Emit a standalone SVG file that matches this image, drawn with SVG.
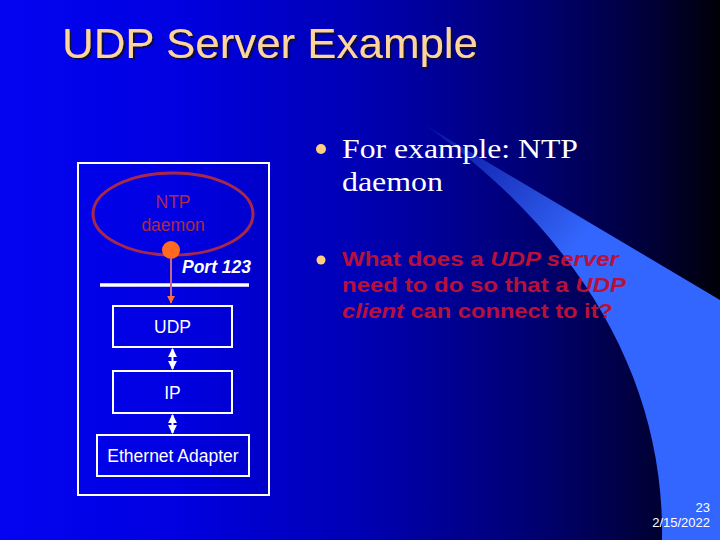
<svg xmlns="http://www.w3.org/2000/svg" width="720" height="540" viewBox="0 0 720 540">
<defs>
<linearGradient id="bg" x1="0" y1="0" x2="720" y2="0" gradientUnits="userSpaceOnUse">
<stop offset="0" stop-color="#0404f2"/>
<stop offset="0.25" stop-color="#0000e0"/>
<stop offset="0.5" stop-color="#0000b4"/>
<stop offset="0.75" stop-color="#000070"/>
<stop offset="0.9" stop-color="#00003a"/>
<stop offset="1" stop-color="#000008"/>
</linearGradient>
<linearGradient id="sw" x1="425" y1="125" x2="600" y2="270" gradientUnits="userSpaceOnUse">
<stop offset="0" stop-color="#3366ff" stop-opacity="0.15"/>
<stop offset="0.85" stop-color="#3366ff" stop-opacity="1"/>
<stop offset="1" stop-color="#3366ff"/>
</linearGradient>
<filter id="shadow" x="-5%" y="-20%" width="110%" height="140%">
<feDropShadow dx="2" dy="2" stdDeviation="0.6" flood-color="#101030" flood-opacity="0.9"/>
</filter>
<marker id="ah" viewBox="0 0 10 10" refX="9" refY="5" markerWidth="4.5" markerHeight="4.5" orient="auto-start-reverse">
<path d="M0,0 L10,5 L0,10 z" fill="#ffffff"/>
</marker>
<marker id="oh" viewBox="0 0 10 10" refX="9" refY="5" markerWidth="4" markerHeight="4" orient="auto">
<path d="M0,0 L10,5 L0,10 z" fill="#ff7030"/>
</marker>
<style>
.box{fill:none;stroke:#ffffff;stroke-width:2}
.lbl{font-family:"Liberation Sans",Arial,sans-serif;font-size:17.5px;fill:#ffffff;text-anchor:middle}
.dlbl{fill:#b02848}
.red{font-family:"Liberation Sans",Arial,sans-serif;font-size:21px;font-weight:bold;fill:#b8103a}
.ser{font-family:"Liberation Serif","Times New Roman",serif;font-size:27px;fill:#ffffff}
.foot{font-family:"Liberation Sans",Arial,sans-serif;font-size:13px;fill:#ffffff;text-anchor:end}
.bul{fill:#ffcc80}
</style>
</defs>
<rect x="0" y="0" width="720" height="540" fill="url(#bg)"/>
<path d="M425,125 L720,300 L720,540 L662,540 C665,380 580,235 425,125 Z" fill="url(#sw)"/>

<g id="title">
<text x="62" y="58" font-family="'Liberation Sans',Arial,sans-serif" font-size="42" fill="#fcd49c" textLength="416" lengthAdjust="spacingAndGlyphs" filter="url(#shadow)">UDP Server Example</text>
</g>

<g id="stack-frame">
<rect x="78" y="163" width="191" height="332" class="box" stroke-width="1.5"/>
</g>

<g id="ntp-daemon">
<ellipse cx="173" cy="214" rx="80" ry="41" fill="none" stroke="#a8284c" stroke-width="3"/>
<text x="173" y="208" class="lbl dlbl">NTP</text>
<text x="173" y="231" class="lbl dlbl">daemon</text>
</g>

<g id="port">
<circle cx="171" cy="250" r="9" fill="#ff6a20"/>
<text x="182" y="273" font-family="'Liberation Sans',Arial,sans-serif" font-size="17.5" font-weight="bold" font-style="italic" fill="#ffffff">Port 123</text>
</g>

<g id="socket-line">
<line x1="100" y1="285" x2="249" y2="285" stroke="#ffffff" stroke-width="3.5"/>
</g>

<g id="udp">
<rect x="113" y="306" width="119" height="41" class="box"/>
<text x="172.5" y="333" class="lbl">UDP</text>
</g>
<g id="ip">
<rect x="113" y="371" width="119" height="42" class="box"/>
<text x="172.5" y="399" class="lbl">IP</text>
</g>
<g id="ethernet">
<rect x="97" y="435" width="152" height="41" class="box"/>
<text x="173" y="462" class="lbl">Ethernet Adapter</text>
</g>

<g id="connectors">
<line x1="171" y1="258" x2="171" y2="303" stroke="#c86888" stroke-width="2" marker-end="url(#oh)"/>
<line x1="172.5" y1="349" x2="172.5" y2="369" stroke="#ffffff" stroke-width="2" marker-start="url(#ah)" marker-end="url(#ah)"/>
<line x1="172.5" y1="415" x2="172.5" y2="433" stroke="#ffffff" stroke-width="2" marker-start="url(#ah)" marker-end="url(#ah)"/>
</g>

<g id="bullets">
<circle cx="321" cy="149" r="5" class="bul"/>
<text x="342" y="158" class="ser" textLength="236" lengthAdjust="spacingAndGlyphs">For example: NTP</text>
<text x="342" y="191" class="ser" textLength="101" lengthAdjust="spacingAndGlyphs">daemon</text>
<circle cx="321" cy="260" r="4.5" class="bul"/>
<text x="342" y="266" class="red" textLength="277" lengthAdjust="spacingAndGlyphs">What does a <tspan font-style="italic">UDP server</tspan></text>
<text x="342" y="292" class="red" textLength="284" lengthAdjust="spacingAndGlyphs">need to do so that a <tspan font-style="italic">UDP</tspan></text>
<text x="342" y="318" class="red" textLength="271" lengthAdjust="spacingAndGlyphs"><tspan font-style="italic">client</tspan> can connect to it?</text>
</g>

<g id="footer">
<text x="710" y="512" class="foot">23</text>
<text x="710" y="527" class="foot">2/15/2022</text>
</g>
</svg>
